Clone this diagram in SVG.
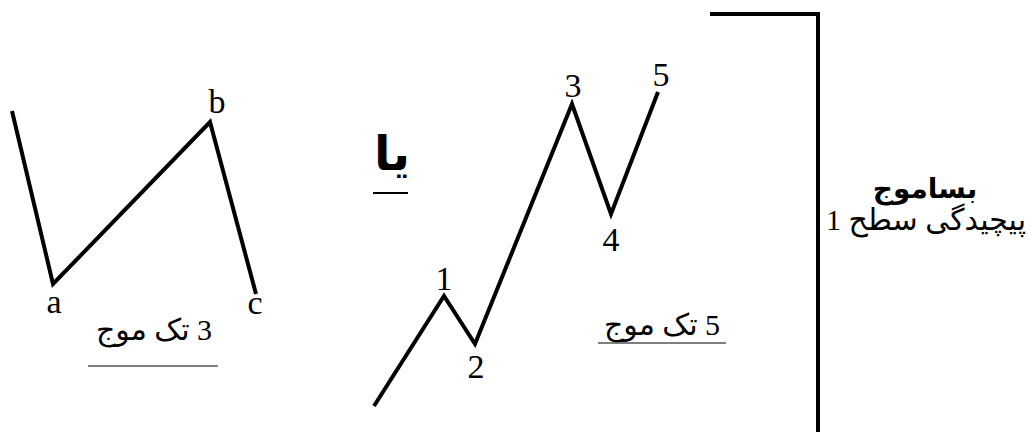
<svg xmlns="http://www.w3.org/2000/svg" width="1031" height="432" viewBox="0 0 1031 432">
<style>
.w{fill:none;stroke:#000;stroke-width:4;stroke-linejoin:miter;stroke-linecap:butt}
.l{font-family:"Liberation Serif","DejaVu Serif",serif;font-size:34px;fill:#000;text-anchor:middle}
.fa{font-family:"Liberation Serif","DejaVu Sans",serif;font-size:30px;fill:#000;text-anchor:middle;direction:rtl;unicode-bidi:embed}
.u{stroke:#555;stroke-width:1.5}
</style>
<rect width="1031" height="432" fill="#fff"/>
<g id="wave-abc">
<polyline class="w" points="12,111 53,284 210,122 256,294"/>
<text class="l" x="54" y="313">a</text>
<text class="l" x="217" y="113">b</text>
<text class="l" x="255" y="314">c</text>
</g>
<g id="label-3">
<text class="fa" x="154" y="340" direction="rtl">3 تک موج</text>
<line class="u" x1="88" y1="366" x2="218" y2="366"/>
</g>
<g id="or">
<text class="fa" x="392" y="170" style="font-weight:bold;font-size:48px" direction="rtl">یا</text>
<line x1="373" y1="193" x2="408" y2="193" stroke="#000" stroke-width="2"/>
</g>
<g id="wave-12345">
<polyline class="w" points="374,406 444,296 475,344 572,104 611,214 658,92"/>
<text class="l" x="444" y="290">1</text>
<text class="l" x="476" y="378">2</text>
<text class="l" x="573" y="97">3</text>
<text class="l" x="611" y="251">4</text>
<text class="l" x="661" y="86">5</text>
</g>
<g id="label-5">
<text class="fa" x="662" y="335" direction="rtl">5 تک موج</text>
<line class="u" x1="598" y1="343" x2="726" y2="343"/>
</g>
<g id="connectors">
<polyline class="w" points="710,14 818,14 818,432"/>
</g>
<g id="title">
<text class="fa" x="925" y="198" style="font-weight:bold;font-size:28px" direction="rtl">بساموج</text>
<text class="fa" x="926" y="230" direction="rtl">پیچیدگی سطح 1</text>
</g>
</svg>
